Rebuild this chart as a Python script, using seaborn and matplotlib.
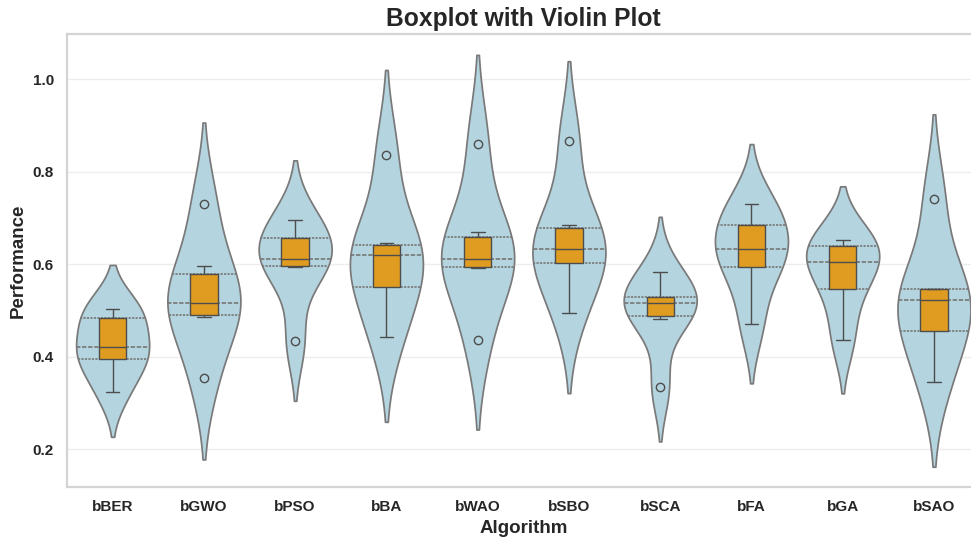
import numpy as np
import pandas as pd
import matplotlib
matplotlib.use("Agg")
import matplotlib.pyplot as plt
import seaborn as sns

# ---- data ----
algorithms = ["bBER", "bGWO", "bPSO", "bBA", "bWAO", "bSBO", "bSCA", "bFA", "bGA", "bSAO"]
bBER = [0.323, 0.392, 0.400, 0.440, 0.499, 0.502]
bGWO = [0.353, 0.486, 0.502, 0.532, 0.595, 0.731]
bPSO = [0.433, 0.594, 0.606, 0.618, 0.669, 0.696]
bBA = [0.443, 0.532, 0.607, 0.633, 0.645, 0.836]
bWAO = [0.435, 0.591, 0.602, 0.622, 0.670, 0.860]
bSBO = [0.494, 0.602, 0.606, 0.660, 0.684, 0.866]
bSCA = [0.335, 0.482, 0.510, 0.520, 0.531, 0.584]
bFA = [0.471, 0.585, 0.620, 0.646, 0.698, 0.731]
bGA = [0.436, 0.533, 0.590, 0.618, 0.645, 0.653]
bSAO = [0.346, 0.440, 0.503, 0.543, 0.547, 0.740]

series = [bBER, bGWO, bPSO, bBA, bWAO, bSBO, bSCA, bFA, bGA, bSAO]
rows = [(alg, v) for alg, vals in zip(algorithms, series) for v in vals]
df = pd.DataFrame(rows, columns=["Algorithm", "Performance"])

sns.set_theme(style="whitegrid")
plt.rcParams["font.family"] = ["Liberation Sans", "DejaVu Sans"]

W, H = 971, 542
fig = plt.figure(figsize=(W / 100, H / 100), dpi=100)
left, right, top, bottom = 67.0, 979.6, 34.3, 487.3
ax = fig.add_axes([left / W, 1 - bottom / H, (right - left) / W, (bottom - top) / H])

sns.violinplot(data=df, x="Algorithm", y="Performance", order=algorithms,
               color="lightblue", inner="quart", density_norm="width", ax=ax)
sns.boxplot(data=df, x="Algorithm", y="Performance", order=algorithms,
            color="orange", width=0.3, fliersize=6, ax=ax)

ax.grid(axis="y", color="#ededed", linewidth=1.0)
ax.grid(axis="x", visible=False)
for s in ax.spines.values():
    s.set_color("#d4d4d4")
    s.set_linewidth(1.6)

ax.set_title("Boxplot with Violin Plot", fontsize=17.7, fontweight="bold", pad=6)
ax.set_xlabel("Algorithm", fontsize=13.5, fontweight="bold", labelpad=4)
ax.set_ylabel("Performance", fontsize=13.5, fontweight="bold", labelpad=4)
ax.tick_params(axis="both", labelsize=11)
for lab in ax.get_xticklabels() + ax.get_yticklabels():
    lab.set_fontweight("bold")

fig.savefig("out.png", dpi=100)
